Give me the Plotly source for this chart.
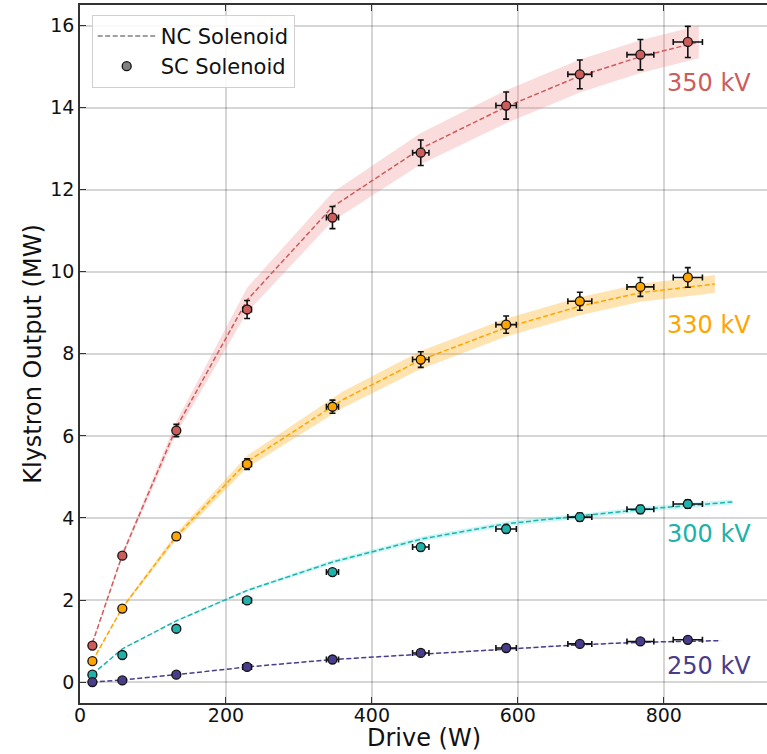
import plotly.graph_objects as go

# Measured drive power for the SC-solenoid runs (W)
sc_drive = [17, 58, 132, 229, 346, 467, 584, 685, 768, 833]
sc_drive_err = [0.4, 1.4, 3.2, 6.0, 8.3, 11.2, 14.0, 16.4, 18.4, 20.0]

# Klystron output with SC solenoid (MW)
sc_350 = [0.89, 3.08, 6.13, 9.08, 11.32, 12.90, 14.05, 14.81, 15.29, 15.60]
sc_350_err = [0.02, 0.07, 0.15, 0.22, 0.27, 0.31, 0.33, 0.35, 0.37, 0.38]
sc_330 = [0.51, 1.79, 3.55, 5.31, 6.71, 7.86, 8.71, 9.28, 9.63, 9.86]
sc_330_err = [0.01, 0.04, 0.09, 0.13, 0.16, 0.19, 0.21, 0.22, 0.23, 0.24]
sc_300 = [0.18, 0.66, 1.30, 1.99, 2.68, 3.29, 3.73, 4.02, 4.21, 4.34]
sc_300_err = [0.005, 0.02, 0.03, 0.05, 0.06, 0.08, 0.09, 0.10, 0.10, 0.10]
sc_250 = [0.00, 0.04, 0.18, 0.37, 0.55, 0.71, 0.83, 0.93, 0.99, 1.03]
sc_250_err = [0.0, 0.002, 0.005, 0.01, 0.015, 0.02, 0.02, 0.025, 0.025, 0.03]

# NC-solenoid reference curves with uncertainty band (MW)
nc_350_x = [17, 58, 132, 229, 346, 467, 584, 685, 768, 848]
nc_350_y = [0.95, 3.10, 6.20, 9.31, 11.58, 13.00, 14.02, 14.77, 15.24, 15.60]
nc_350_band = [0.02, 0.06, 0.15, 0.30, 0.35, 0.38, 0.40, 0.40, 0.40, 0.40]

nc_330_x = [17, 58, 132, 229, 360, 467, 584, 685, 768, 870]
nc_330_y = [0.51, 1.81, 3.55, 5.37, 6.88, 7.85, 8.64, 9.16, 9.49, 9.70]
nc_330_band = [0.01, 0.03, 0.08, 0.15, 0.20, 0.22, 0.22, 0.22, 0.22, 0.22]

nc_300_x = [17, 58, 133, 230, 347, 469, 585, 686, 771, 894]
nc_300_y = [0.19, 0.81, 1.50, 2.24, 2.93, 3.49, 3.86, 4.04, 4.21, 4.39]
nc_300_band = [0.0, 0.01, 0.02, 0.03, 0.05, 0.06, 0.06, 0.06, 0.06, 0.06]

nc_250_x = [17, 58, 132, 230, 347, 469, 585, 685, 768, 878]
nc_250_y = [0.00, 0.05, 0.18, 0.37, 0.55, 0.675, 0.80, 0.91, 0.97, 1.01]
nc_250_band = [0.0, 0.0, 0.0, 0.005, 0.005, 0.01, 0.01, 0.01, 0.01, 0.01]

voltage_labels = ["350 kV", "330 kV", "300 kV", "250 kV"]
label_y = [14.6, 8.7, 3.6, 0.39]
label_x = 802

colors = ["#cd5c5c", "#ffa500", "#20b2aa", "#483d8b"]
band_colors = ["rgba(240,128,128,0.28)", "rgba(255,165,0,0.30)",
               "rgba(64,224,224,0.28)", "rgba(72,61,139,0.15)"]

FONT = "DejaVu Sans"

series = [
    (nc_350_x, nc_350_y, nc_350_band, sc_350, sc_350_err),
    (nc_330_x, nc_330_y, nc_330_band, sc_330, sc_330_err),
    (nc_300_x, nc_300_y, nc_300_band, sc_300, sc_300_err),
    (nc_250_x, nc_250_y, nc_250_band, sc_250, sc_250_err),
]

fig = go.Figure()

for (nx, ny, nb, sy, se), col, bcol in zip(series, colors, band_colors):
    upper = [y + b for y, b in zip(ny, nb)]
    lower = [y - b for y, b in zip(ny, nb)]
    fig.add_trace(go.Scatter(
        x=nx + nx[::-1], y=upper + lower[::-1],
        fill="toself", fillcolor=bcol, line=dict(width=0),
        mode="lines", hoverinfo="skip", showlegend=False))
    fig.add_trace(go.Scatter(
        x=nx, y=ny, mode="lines",
        line=dict(color=col, width=1.5, dash="5px,2.5px"),
        showlegend=False))

for (nx, ny, nb, sy, se), col in zip(series, colors):
    fig.add_trace(go.Scatter(
        x=sc_drive, y=sy, mode="markers",
        marker=dict(size=9, color=col, line=dict(color="#111111", width=1.3)),
        error_y=dict(type="data", array=se, color="#111111", thickness=1.6, width=3),
        error_x=dict(type="data", array=sc_drive_err, color="#111111", thickness=1.6, width=3),
        showlegend=False))

# Legend entries
fig.add_trace(go.Scatter(
    x=[None], y=[None], mode="lines", name="NC Solenoid",
    line=dict(color="#808080", width=1.5, dash="5px,2.5px")))
fig.add_trace(go.Scatter(
    x=[None], y=[None], mode="markers", name="SC Solenoid",
    marker=dict(size=9, color="#808080", line=dict(color="#111111", width=1.3)),
    error_y=dict(type="data", array=[0.3], color="#111111", thickness=1.6, width=3),
    error_x=dict(type="data", array=[20], color="#111111", thickness=1.6, width=3)))

for txt, ly, col in zip(voltage_labels, label_y, colors):
    fig.add_annotation(x=label_x, y=ly, text=txt, showarrow=False,
                       xanchor="left", yanchor="middle",
                       font=dict(family=FONT, size=24, color=col))

# x-axis title placed below the tick labels
fig.add_annotation(x=0.5, y=-0.0715, xref="paper", yref="paper",
                   text="Drive (W)", showarrow=False, borderpad=0,
                   xanchor="center", yanchor="bottom",
                   font=dict(family=FONT, size=24, color="#111111"))

fig.update_layout(
    width=767, height=754,
    margin=dict(l=80, r=0, t=5, b=51),
    paper_bgcolor="white", plot_bgcolor="white",
    font=dict(family=FONT, color="#111111"),
    legend=dict(x=0.017, y=0.986, xanchor="left", yanchor="top",
                bgcolor="rgba(255,255,255,0.85)", bordercolor="#d0d0d0",
                borderwidth=1, font=dict(family=FONT, size=21, color="#111111"),
                itemwidth=58),
    xaxis=dict(range=[0, 941.5], tickvals=[0, 200, 400, 600, 800],
               showgrid=True, gridcolor="rgba(0,0,0,0.16)", gridwidth=1.5,
               zeroline=False, showline=True, linecolor="#333333", linewidth=1.5,
               mirror="ticks", ticks="inside", ticklen=6, tickcolor="#333333",
               ticklabelstandoff=-6,
               tickfont=dict(family=FONT, size=19)),
    yaxis=dict(range=[-0.51, 16.5], tickvals=[0, 2, 4, 6, 8, 10, 12, 14, 16],
               showgrid=True, gridcolor="rgba(0,0,0,0.16)", gridwidth=1.5,
               zeroline=False, showline=True, linecolor="#333333", linewidth=1.5,
               ticks="inside", ticklen=6, tickcolor="#333333",
               tickfont=dict(family=FONT, size=19),
               title=dict(text="Klystron Output (MW)", font=dict(family=FONT, size=24), standoff=2)),
)

fig.write_html("out.html")
